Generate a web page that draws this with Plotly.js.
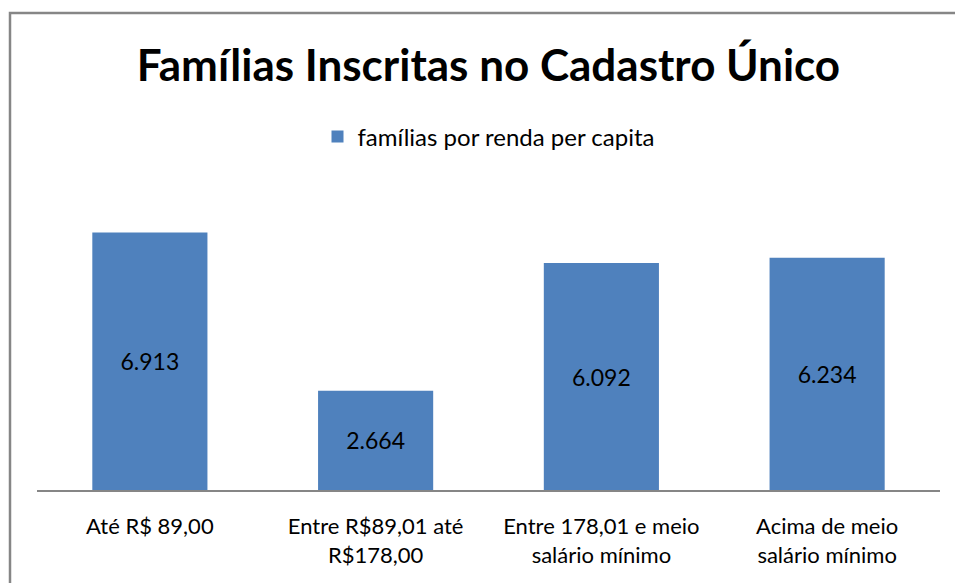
<!DOCTYPE html>
<html>
<head>
<meta charset="utf-8">
<script src="https://cdn.plot.ly/plotly-3.0.1.min.js"></script>
<style>
html,body{margin:0;padding:0;background:#fff;}
#chart{width:955px;height:583px;}
</style>
</head>
<body>
<div id="chart"></div>
<script>
// Data (thousands of families)
const categories = ["Até R$ 89,00", "Entre R$89,01 até<br>R$178,00", "Entre 178,01 e meio<br>salário mínimo", "Acima de meio<br>salário mínimo"];
const values = [6913, 2664, 6092, 6234];
const seriesName = "famílias por renda per capita";
const chartTitle = "Famílias Inscritas no Cadastro Único";

const FONT = "Lato, 'Open Sans', sans-serif";

const trace = {
  type: "bar",
  x: categories,
  y: values,
  name: seriesName,
  marker: {color: "#4F81BD"},
  texttemplate: "%{y:,.0f}",
  textposition: "inside",
  insidetextanchor: "middle",
  textfont: {family: FONT, size: 23, color: "#000000"},
  hoverinfo: "x+y"
};

const layout = {
  width: 955,
  height: 583,
  margin: {l: 37, r: 15, t: 192, b: 93},
  separators: ",.",
  paper_bgcolor: "#ffffff",
  plot_bgcolor: "#ffffff",
  bargap: 0.49,
  showlegend: true,
  title: {
    text: "<b>" + chartTitle + "</b>",
    font: {family: FONT, size: 44, color: "#000000"},
    x: 0.5, xref: "paper", xanchor: "center",
    y: 1 - 66/583, yref: "container", yanchor: "middle"
  },
  legend: {
    orientation: "h",
    x: 0.5, xanchor: "center", xref: "paper",
    y: (490-137)/298, yanchor: "middle", yref: "paper",
    font: {family: FONT, size: 24, color: "#000000"},
    itemwidth: 30
  },
  xaxis: {
    type: "category",
    showline: true,
    linecolor: "#868686",
    linewidth: 2,
    showgrid: false,
    ticks: "",
    ticklabelstandoff: 16,
    tickfont: {family: FONT, size: 22, color: "#000000"},
    fixedrange: true
  },
  yaxis: {
    range: [0, 8000],
    visible: false,
    showgrid: false,
    zeroline: false,
    fixedrange: true
  },
  shapes: [{
    type: "rect",
    xref: "paper", yref: "paper",
    x0: (10-37)/903, x1: 1.1,
    y0: -0.5, y1: (490-13)/298,
    line: {color: "#868686", width: 2.5},
    fillcolor: "rgba(0,0,0,0)",
    layer: "below"
  }]
};

Plotly.newPlot("chart", [trace], layout, {displayModeBar: false, responsive: false});
</script>
</body>
</html>
